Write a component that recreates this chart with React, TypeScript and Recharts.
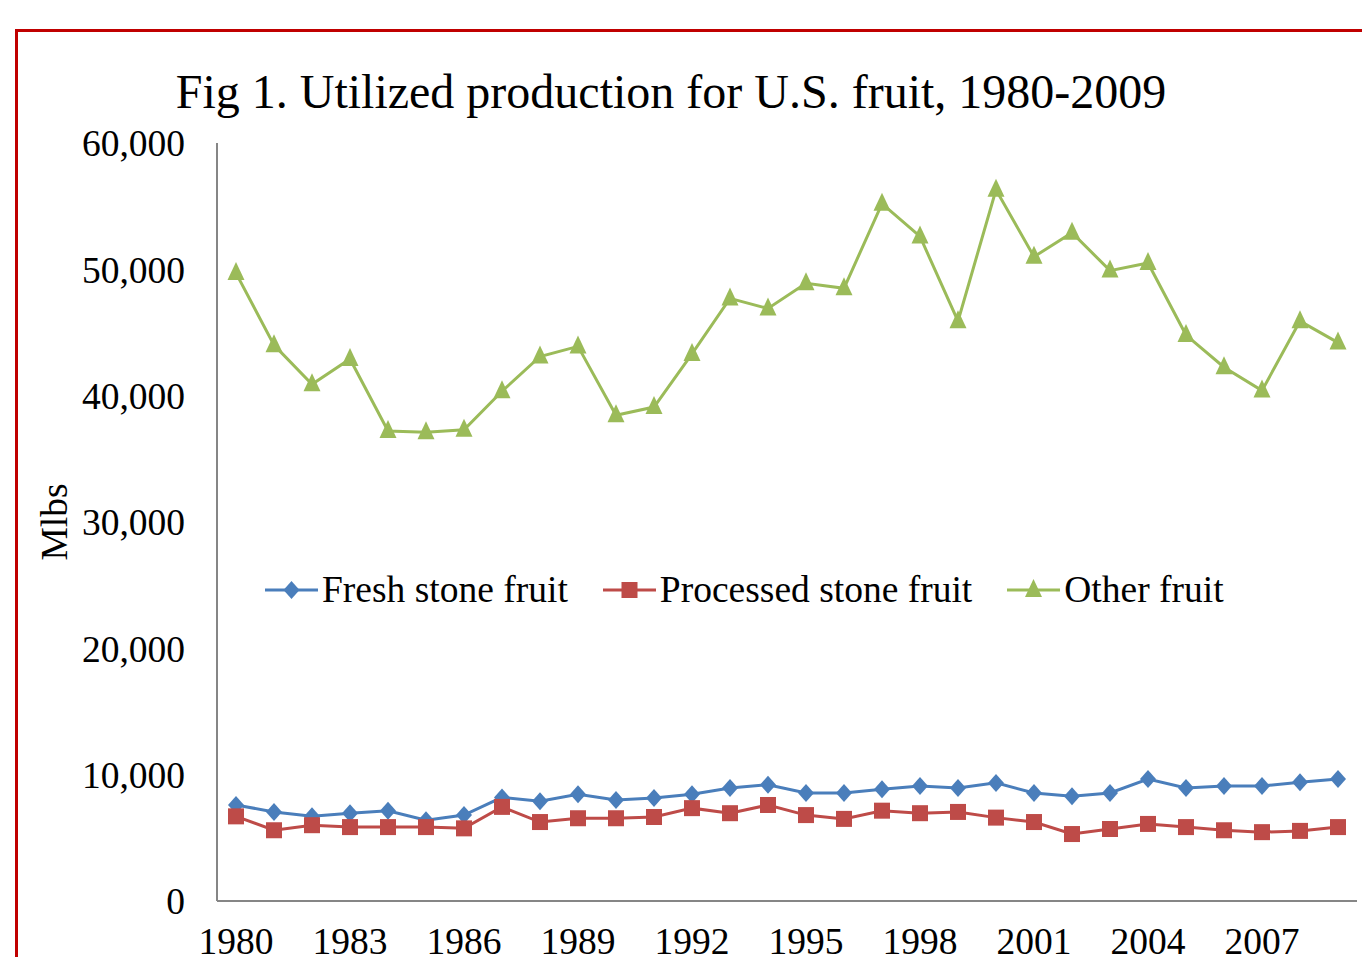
import React from 'react';
import { LineChart, Line, XAxis, YAxis, Legend } from 'recharts';

const YEARS = [
  1980, 1981, 1982, 1983, 1984, 1985, 1986, 1987, 1988, 1989,
  1990, 1991, 1992, 1993, 1994, 1995, 1996, 1997, 1998, 1999,
  2000, 2001, 2002, 2003, 2004, 2005, 2006, 2007, 2008, 2009,
];

const FRESH = [
  7600, 7050, 6700, 6950, 7150, 6400, 6800, 8200, 7900, 8450,
  8000, 8150, 8450, 8950, 9200, 8550, 8550, 8850, 9100, 8950,
  9350, 8550, 8300, 8550, 9650, 8950, 9100, 9100, 9400, 9650,
];

const PROCESSED = [
  6700, 5600, 6000, 5850, 5850, 5850, 5750, 7450, 6250, 6550,
  6550, 6650, 7350, 6950, 7600, 6800, 6500, 7150, 6950, 7050,
  6600, 6250, 5300, 5700, 6100, 5850, 5600, 5450, 5550, 5850,
];

const OTHER = [
  49700, 44000, 40900, 42900, 37200, 37100, 37300, 40350, 43100, 43900,
  38450, 39100, 43300, 47700, 46900, 48900, 48500, 55200, 52600, 45900,
  56300, 51000, 52900, 49900, 50500, 44800, 42250, 40400, 45900, 44200,
];

const Y_TICKS = [0, 10000, 20000, 30000, 40000, 50000, 60000];

const BLUE = '#4A7EBB';
const RED = '#BE4B48';
const GREEN = '#9BBB59';
const FONT = '"Liberation Serif", "Times New Roman", serif';

const data = YEARS.map((year, i) => ({
  year,
  fresh: FRESH[i],
  processed: PROCESSED[i],
  other: OTHER[i],
}));

function Marker({ kind, cx, cy, color }: { kind: string; cx: number; cy: number; color: string }) {
  if (kind === 'diamond') {
    return <polygon points={`${cx},${cy - 9} ${cx + 8},${cy} ${cx},${cy + 9} ${cx - 8},${cy}`} fill={color} />;
  }
  if (kind === 'square') {
    const r = 8;
    return <rect x={cx - r} y={cy - r} width={r * 2} height={r * 2} fill={color} />;
  }
  return <polygon points={`${cx},${cy - 11} ${cx + 8.5},${cy + 7} ${cx - 8.5},${cy + 7}`} fill={color} />;
}

const dotFor = (kind: string, color: string) => (props: any) => (
  <Marker key={`${kind}-${props.index}`} kind={kind} cx={props.cx} cy={props.cy} color={color} />
);

const LEGEND_ITEMS = [
  { label: 'Fresh stone fruit', kind: 'diamond', color: BLUE },
  { label: 'Processed stone fruit', kind: 'square', color: RED },
  { label: 'Other fruit', kind: 'triangle', color: GREEN },
];

function LegendContent() {
  return (
    <div style={{ display: 'flex', alignItems: 'center', fontFamily: FONT, fontSize: 37.5, lineHeight: 1, color: '#000' }}>
      {LEGEND_ITEMS.map((item, i) => (
        <div key={item.label} style={{ display: 'flex', alignItems: 'center', marginRight: i < 2 ? 35 : 0 }}>
          <svg width={53} height={24} style={{ marginRight: 4 }}>
            <line x1={0} y1={12} x2={53} y2={12} stroke={item.color} strokeWidth={3} />
            <Marker kind={item.kind} cx={26.5} cy={12} color={item.color} />
          </svg>
          <span>{item.label}</span>
        </div>
      ))}
    </div>
  );
}

export default function App() {
  return (
    <div style={{ position: 'absolute', left: 0, top: 0, width: 1362, height: 957, overflow: 'hidden', background: '#fff' }}>
      <div
        style={{
          position: 'absolute',
          left: 15,
          top: 29,
          width: 1400,
          height: 1000,
          border: '3px solid #C00000',
        }}
      />
      <div
        style={{
          position: 'absolute',
          left: 0,
          width: 1342,
          top: 68,
          textAlign: 'center',
          fontFamily: FONT,
          fontSize: 48,
          lineHeight: 1,
          whiteSpace: 'nowrap',
        }}
      >
        Fig 1. Utilized production for U.S. fruit, 1980-2009
      </div>
      <div
        style={{
          position: 'absolute',
          left: 55,
          top: 522,
          transform: 'translate(-50%, -50%) rotate(-90deg)',
          fontFamily: FONT,
          fontSize: 37.5,
          lineHeight: 1,
          whiteSpace: 'nowrap',
        }}
      >
        Mlbs
      </div>
      <div style={{ position: 'absolute', left: 0, top: 0 }}>
        <LineChart width={1362} height={957} data={data} margin={{ top: 143, right: 5, bottom: 0, left: 0 }}>
          <XAxis
            dataKey="year"
            interval={2}
            height={56}
            padding={{ left: 19, right: 19 }}
            axisLine={{ stroke: '#868686', strokeWidth: 2 }}
            tickLine={false}
            tickMargin={20}
            tick={{ fill: '#000', fontFamily: FONT, fontSize: 37.5 }}
          />
          <YAxis
            width={217}
            domain={[0, 60000]}
            ticks={Y_TICKS}
            interval={0}
            axisLine={{ stroke: '#868686', strokeWidth: 2 }}
            tickLine={false}
            tickMargin={26}
            tickFormatter={(v: number) => v.toLocaleString('en-US')}
            tick={{ fill: '#000', fontFamily: FONT, fontSize: 37.5 }}
          />
          <Legend
            layout="horizontal"
            verticalAlign="middle"
            align="center"
            content={<LegendContent />}
            wrapperStyle={{ position: 'absolute', left: 265, top: 571, width: 'auto', height: 'auto' }}
          />
          <Line dataKey="fresh" stroke={BLUE} strokeWidth={3} dot={dotFor('diamond', BLUE)} isAnimationActive={false} />
          <Line dataKey="processed" stroke={RED} strokeWidth={3} dot={dotFor('square', RED)} isAnimationActive={false} />
          <Line dataKey="other" stroke={GREEN} strokeWidth={3} dot={dotFor('triangle', GREEN)} isAnimationActive={false} />
        </LineChart>
      </div>
    </div>
  );
}
